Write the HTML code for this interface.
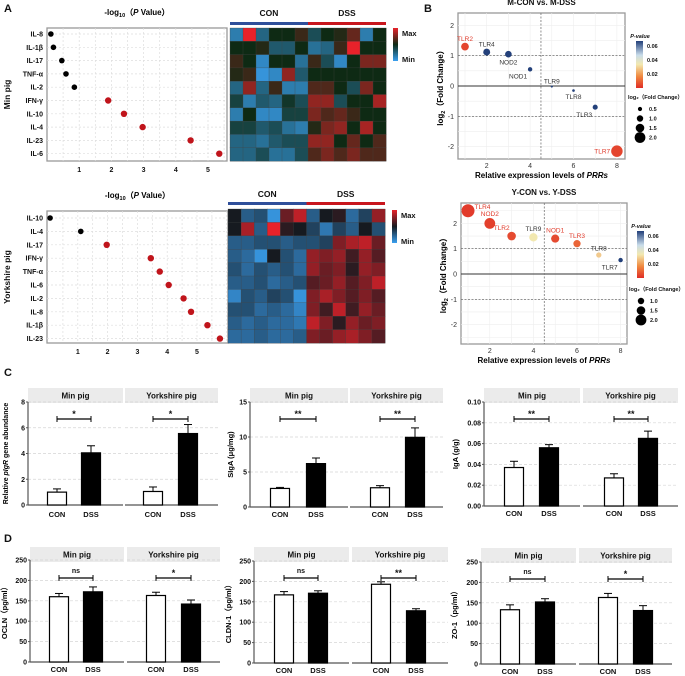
<!DOCTYPE html>
<html><head><meta charset="utf-8"><style>
html,body{margin:0;padding:0;background:#fff;}
svg{display:block;font-family:"Liberation Sans",Arial,sans-serif;}
</style></head><body>
<svg id="fig" width="685" height="676" viewBox="0 0 685 676"></svg>
<script>
// ---------- Panel A data ----------
const aTopGenes=["IL-8","IL-1β","IL-17","TNF-α","IL-2","IFN-γ","IL-10","IL-4","IL-23","IL-6"];
const aTopVals=[0.12,0.2,0.46,0.59,0.85,1.9,2.39,2.97,4.46,5.35];
const aBotGenes=["IL-10","IL-4","IL-17","IFN-γ","TNF-α","IL-6","IL-2","IL-8","IL-1β","IL-23"];
const aBotVals=[0.07,1.1,1.97,3.45,3.75,4.05,4.55,4.8,5.35,5.77];
const aTicks=[1,2,3,4,5];
const heatTop=[
[-0.7,1,-0.5,0,0,0.2,-0.3,0,0.1,0.4,-0.7,0],
[0,0,0.1,-0.4,-0.4,0,-0.6,-0.5,0.2,1,0,0],
[0.2,0,-0.8,0,0,-0.6,0.2,-0.3,-0.8,0,0.5,0.5],
[0.1,0.2,-0.9,-0.8,0.6,-0.4,0,0,0,0,0,0],
[-0.5,0.6,-0.5,0.2,-0.7,-0.7,0.3,0.3,0,-0.3,0.5,0],
[-0.2,-0.7,-0.4,-0.5,-0.1,-0.3,0.6,0.6,-0.3,0,0,0.7],
[-0.7,0,-0.8,-0.8,-0.2,-0.2,0.5,0.3,0.4,0.2,0,0],
[-0.2,-0.2,-0.4,-0.3,-0.6,-0.7,0.1,0.5,0.6,0,0.7,0],
[-0.5,-0.5,-0.6,-0.4,-0.3,-0.3,0.6,0.6,0,0.4,0,0.3],
[-0.5,-0.5,-0.3,-0.6,-0.6,-0.3,0.3,0.5,0.3,0.5,0.3,0.3]];
const heatBot=[
[0,-0.5,-0.4,-0.9,0.4,0.8,-0.5,0,0.1,-0.6,-0.3,0.6],
[0,0.7,-0.5,1,0.1,0,-0.3,-0.7,-0.3,-0.5,0,-0.4],
[-0.5,-0.5,-0.4,-0.4,-0.5,-0.4,-0.4,-0.3,0.5,0.7,0.8,0.4],
[-0.5,-0.6,-0.9,0,-0.4,-0.6,0.6,0.5,0.6,0.2,0.6,0.3],
[-0.4,-0.6,-0.4,-0.5,-0.4,-0.6,0.6,0.4,0.5,0.1,0.6,0.5],
[-0.5,-0.5,-0.4,-0.6,-0.5,-0.4,0.3,0.4,0.6,0.3,0.5,0.8],
[-0.8,-0.4,-0.5,-0.3,-0.4,-0.9,0.5,0.7,0.5,0.3,0.5,0.3],
[-0.4,-0.4,-0.6,-0.5,-0.6,-0.8,0.5,0.2,0.8,0.2,0.6,0.4],
[-0.5,-0.6,-0.5,-0.6,-0.6,-0.7,0.8,0.5,0.1,0.6,0.4,0.5],
[-0.6,-0.6,-0.5,-0.6,-0.6,-0.5,0.5,0.4,0.6,0.7,0.5,0.3]];
// ---------- Panel B data ----------
const bTopGenes=["TLR2","TLR4","NOD2","NOD1","TLR9","TLR8","TLR3","TLR7"];
const bTopX=[1,2,3,4,5,6,7,8];
const bTopFC=[1.3,1.12,1.05,0.55,-0.02,-0.15,-0.7,-2.15];
const bTopP=[0.005,0.065,0.065,0.065,0.065,0.065,0.065,0.005];
const bTopLab=["a","a","b","bl","a","b","bl","l"];
const bBotGenes=["TLR4","NOD2","TLR2","TLR9","NOD1","TLR3","TLR8","TLR7"];
const bBotX=[1,2,3,4,5,6,7,8];
const bBotFC=[2.5,2.0,1.5,1.45,1.4,1.2,0.75,0.55];
const bBotP=[0.003,0.004,0.006,0.035,0.006,0.012,0.03,0.065];
const bBotLab=["r","a","al","a","a","a","a","bl"];
const bXTicks=[2,4,6,8];
const bYTicks=[-2,-1,0,1,2];
// ---------- Panels C/D data ----------
const groups=["Min pig","Yorkshire pig"];
const cats=["CON","DSS"];
const c1Means=[1.0,4.05,1.05,5.55], c1Err=[0.25,0.55,0.35,0.7];
const c2Means=[2.65,6.2,2.75,9.95], c2Err=[0.15,0.8,0.3,1.35];
const c3Means=[0.037,0.056,0.027,0.065], c3Err=[0.006,0.003,0.004,0.007];
const d1Means=[160,172,163,142], d1Err=[8,12,8,10];
const d2Means=[167,171,193,128], d2Err=[8,6,6,5];
const d3Means=[133,152,163,131], d3Err=[12,8,10,12];
const c1Ticks=[0,2,4,6,8], c2Ticks=[0,5,10,15], c3Ticks=[0,0.02,0.04,0.06,0.08,0.10];
const dTicks=[0,50,100,150,200,250];
const c1Sig=["*","*"], c2Sig=["**","**"], c3Sig=["**","**"];
const d1Sig=["ns","*"], d2Sig=["ns","**"], d3Sig=["ns","*"];

const NS="http://www.w3.org/2000/svg";
const svg=document.getElementById('fig');
function el(tag,attrs,parent,txt){const e=document.createElementNS(NS,tag);for(const k in attrs)e.setAttribute(k,attrs[k]);if(txt!==undefined)e.textContent=txt;(parent||svg).appendChild(e);return e;}
function grp(name){const g=el('g',{});return g;}
function txt(g,x,y,s,size,opt){opt=opt||{};const t=el('text',{x:x,y:y,'font-size':size,'font-weight':opt.w||'bold','text-anchor':opt.a||'middle',fill:opt.fill||'#111'},g,s);if(opt.rot)t.setAttribute('transform','rotate(-90 '+x+' '+y+')');if(opt.style)t.setAttribute('font-style',opt.style);return t;}
function mix(a,b,t){return 'rgb('+[0,1,2].map(i=>Math.round(a[i]+(b[i]-a[i])*t)).join(',')+')';}

// panel letters
[["A",4,12],["B",424,12],["C",4,376],["D",4,542]].forEach(p=>{const t=txt(svg,p[1],p[2],p[0],11,{a:'start'});});

// ---------- Dot plot ----------
function dotPlot(name,genes,vals,box,x0,unit,rowY,rowStep,title,ylab){
  const g=grp(name);
  const xs=v=>x0+v*unit, ys=i=>rowY+i*rowStep;
  el('rect',{x:box[0],y:box[1],width:box[2]-box[0],height:box[3]-box[1],fill:'#fff',stroke:'#999','stroke-width':1.3},g);
  for(let v=0.5;xs(v)<box[2];v+=0.5){el('line',{x1:xs(v),x2:xs(v),y1:box[1],y2:box[3],stroke:'#ddd','stroke-dasharray':'2,2','stroke-width':0.7},g);}
  genes.forEach((gn,i)=>{el('line',{x1:box[0],x2:box[2],y1:ys(i),y2:ys(i),stroke:'#ddd','stroke-dasharray':'2,2','stroke-width':0.7},g);
    txt(g,box[0]-4,ys(i)+2.5,gn,7,{a:'end'});});
  aTicks.forEach(t=>txt(g,xs(t),box[3]+11,String(t),7));
  vals.forEach((v,i)=>{const red=v>=1.3;const c=el('circle',{cx:xs(v),cy:ys(i),r:red?3.2:2.8,fill:red?'#c0141b':'#000'},g);
    });
  const t=el('text',{x:(box[0]+box[2])/2,y:title,'font-size':8,'font-weight':'bold','text-anchor':'middle'},g);
  t.innerHTML='-log<tspan font-size="5.5" dy="2">10</tspan><tspan dy="-2">（</tspan><tspan font-style="italic">P</tspan> Value）';
  txt(g,10,(box[1]+box[3])/2,ylab,8.5,{rot:1});
}
dotPlot('dotplot-min',aTopGenes,aTopVals,[47,28,227,161],47,32.2,34,13.3,15,'Min pig');
dotPlot('dotplot-yorkshire',aBotGenes,aBotVals,[47,211,228,343],48,29.8,218,13.4,198,'Yorkshire pig');

// ---------- Heatmaps ----------
function heat(name,data,x,y,w,h,mid,labY,barY,leg){
  const g=grp(name);
  const rows=data.length, cols=data[0].length, cw=w/cols, ch=h/rows;
  const blue=[58,160,240], red=[232,34,42];
  data.forEach((r,i)=>r.forEach((v,j)=>{const c=v<0?mix(mid,blue,-v):mix(mid,red,v);
    const rc=el('rect',{x:x+j*cw,y:y+i*ch,width:cw+0.3,height:ch+0.3,fill:c,stroke:'#444','stroke-width':0.3},g);
    }));
  el('rect',{x:x,y:barY,width:w/2,height:3,fill:'#2f4f9a'},g);
  el('rect',{x:x+w/2,y:barY,width:w/2,height:3,fill:'#c8161d'},g);
  txt(g,x+w/4,labY,'CON',8.5);txt(g,x+3*w/4,labY,'DSS',8.5);
  const d=el('defs',{},g);const lg=el('linearGradient',{id:name+'g',x1:0,y1:0,x2:0,y2:1},d);
  el('stop',{offset:'0','stop-color':'#e8222a'},lg);el('stop',{offset:'0.5','stop-color':mix(mid,mid,0)},lg);el('stop',{offset:'1','stop-color':'#3aa0f0'},lg);
  el('rect',{x:leg[0],y:leg[1],width:5,height:33,fill:'url(#'+name+'g)'},g);
  txt(g,leg[0]+9,leg[1]+8,'Max',7.5,{a:'start'});txt(g,leg[0]+9,leg[1]+34,'Min',7.5,{a:'start'});
}
heat('heatmap-min',heatTop,230,28,156,133,[14,42,20],16,22,[393,28]);
heat('heatmap-yorkshire',heatBot,228,209,157,134,[22,26,32],197,202,[392,210]);

// ---------- Panel B scatter ----------
function pcol(p){const st=[[0,[224,45,38]],[0.02,[240,140,70]],[0.035,[242,232,176]],[0.045,[200,220,235]],[0.065,[35,64,122]]];
  for(let i=1;i<st.length;i++){if(p<=st[i][0]){const t=(p-st[i-1][0])/(st[i][0]-st[i-1][0]);return mix(st[i-1][1],st[i][1],t);}}return mix(st[4][1],st[4][1],0);}
function scatter(name,genes,xv,fc,pv,lab,box,x1,ux,y0,uy,title,leg,sizes){
  const g=grp(name);
  const xs=v=>x1+(v-1)*ux, ys=v=>y0-v*uy;
  el('rect',{x:box[0],y:box[1],width:box[2]-box[0],height:box[3]-box[1],fill:'#fff',stroke:'#999','stroke-width':1.3},g);
  for(let v=1;v<=8.3;v+=1)el('line',{x1:xs(v),x2:xs(v),y1:box[1],y2:box[3],stroke:'#eee','stroke-width':0.6},g);
  for(let v=-2.5;v<=2.5;v+=0.5)if(ys(v)>box[1]&&ys(v)<box[3])el('line',{x1:box[0],x2:box[2],y1:ys(v),y2:ys(v),stroke:'#eee','stroke-width':0.6},g);
  [1,-1].forEach(v=>el('line',{x1:box[0],x2:box[2],y1:ys(v),y2:ys(v),stroke:'#555','stroke-dasharray':'2,1.5','stroke-width':0.7},g));
  el('line',{x1:box[0],x2:box[2],y1:ys(0),y2:ys(0),stroke:'#333','stroke-width':1},g);
  el('line',{x1:xs(4.5),x2:xs(4.5),y1:box[1],y2:box[3],stroke:'#777','stroke-dasharray':'2,1.5','stroke-width':0.8},g);
  bXTicks.forEach(t=>txt(g,xs(t),box[3]+9,String(t),7,{w:'normal',fill:'#333'}));
  bYTicks.forEach(t=>{if(ys(t)>box[1]&&ys(t)<box[3])txt(g,box[0]-4,ys(t)+2.5,String(t),7,{a:'end',w:'normal',fill:'#333'});});
  genes.forEach((gn,i)=>{const cx=xs(xv[i]),cy=ys(fc[i]);const r=1+2.2*Math.abs(fc[i]);
    const c=el('circle',{cx:cx,cy:cy,r:r,fill:pcol(pv[i])},g);
    const col=pv[i]<0.03?'#e03a2a':'#333';
    let lx=cx,ly=cy-r-2,an='middle';const L=lab[i];
    if(L==='b'){ly=cy+r+7;} if(L==='bl'){lx=cx-3;ly=cy+r+7;an='end';}
    if(L==='l'){lx=cx-r-1;ly=cy+2.5;an='end';} if(L==='r'){lx=cx+r;ly=cy-2;an='start';}
    if(L==='al'){lx=cx-2;an='end';}
    txt(g,lx,ly,gn,6.5,{w:'normal',a:an,fill:col});});
  txt(g,(box[0]+box[2])/2,title,name.indexOf('min')>=0?'M-CON vs. M-DSS':'Y-CON vs. Y-DSS',8);
  const xl=el('text',{x:(box[0]+box[2])/2,y:box[3]+19,'font-size':8,'font-weight':'bold','text-anchor':'middle'},g);
  xl.innerHTML='Relative expression levels of <tspan font-style="italic">PRRs</tspan>';
  const yl=el('text',{x:box[0]-15,y:(box[1]+box[3])/2,'font-size':8,'font-weight':'bold','text-anchor':'middle',transform:'rotate(-90 '+(box[0]-15)+' '+((box[1]+box[3])/2)+')'},g);
  yl.innerHTML='log<tspan font-size="5.5" dy="2">2</tspan><tspan dy="-2">（Fold Change）</tspan>';
  txt(g,leg[0]+4,leg[1]-3,'P-value',5.5,{style:'italic'});
  const d=el('defs',{},g);const lg=el('linearGradient',{id:name+'pg',x1:0,y1:0,x2:0,y2:1},d);
  [[0,'#23407a'],[0.3,'#c8dcea'],[0.5,'#f2e8b0'],[0.75,'#f08a40'],[1,'#e02d26']].forEach(s=>el('stop',{offset:s[0],'stop-color':s[1]},lg));
  el('rect',{x:leg[0],y:leg[1],width:7,height:47,fill:'url(#'+name+'pg)'},g);
  ['0.06','0.04','0.02'].forEach((s,i)=>txt(g,leg[0]+11,leg[1]+7+i*14,s,5.5,{a:'start'}));
  txt(g,leg[0]-8,leg[2],'log₂（Fold Change）',5.5,{a:'start'});
  sizes.forEach((s,i)=>{const yy=leg[2]+10+i*9.5;el('circle',{cx:leg[0]+4,cy:yy,r:1+2.2*s,fill:'#000'},g);txt(g,leg[0]+13,yy+2,s.toFixed(1),5.5,{a:'start'});});
}
scatter('scatter-min',bTopGenes,bTopX,bTopFC,bTopP,bTopLab,[458,13,625,159],465,21.7,86,30.3,5,[636,41,99],[0.5,1.0,1.5,2.0]);
scatter('scatter-yorkshire',bBotGenes,bBotX,bBotFC,bBotP,bBotLab,[461,203,627,344],468,21.8,274,25.3,195,[637,231,291],[1.0,1.5,2.0]);

// ---------- Bar charts ----------
function bars(name,means,errs,ticks,sig,ylab,yaxX,yTop,y0,facets,centers,stripY,labY,ylx,fmt,yfs){
  const g=grp(name);
  const max=ticks[ticks.length-1];const ys=v=>y0-(v/max)*(y0-yTop);
  facets.forEach((f,k)=>{const s=el('rect',{x:f[0],y:stripY,width:f[1]-f[0],height:15,fill:'#ebebeb'},g);
    
    txt(g,(f[0]+f[1])/2,stripY+10.5,groups[k],8);
    ticks.forEach(t=>{if(t>0)el('line',{x1:f[0],x2:f[1],y1:ys(t),y2:ys(t),stroke:'#d5d5d5','stroke-dasharray':'3,2','stroke-width':0.7},g);});
    el('line',{x1:f[0],x2:f[1],y1:y0,y2:y0,stroke:'#555','stroke-width':1.2},g);});
  el('line',{x1:yaxX,x2:yaxX,y1:yTop,y2:y0,stroke:'#555','stroke-width':1.2},g);
  ticks.forEach(t=>{el('line',{x1:yaxX-2,x2:yaxX,y1:ys(t),y2:ys(t),stroke:'#555'},g);txt(g,yaxX-3,ys(t)+2.5,fmt(t),7,{a:'end'});});
  means.forEach((m,i)=>{const cx=centers[i],w=19,top=ys(m),et=ys(m+errs[i]);
    el('line',{x1:cx,x2:cx,y1:top,y2:et,stroke:'#000','stroke-width':1},g);
    el('line',{x1:cx-4,x2:cx+4,y1:et,y2:et,stroke:'#000','stroke-width':1},g);
    const b=el('rect',{x:cx-w/2,y:top,width:w,height:y0-top,fill:i%2?'#000':'#fff',stroke:'#000','stroke-width':1.2},g);
    
    txt(g,cx,labY,cats[i%2],7.5);});
  sig.forEach((s,k)=>{const a=centers[2*k],b=centers[2*k+1];const by=stripY+31;
    el('line',{x1:a,x2:b,y1:by,y2:by,stroke:'#000','stroke-width':1.2},g);
    el('line',{x1:a,x2:a,y1:by-3,y2:by+3,stroke:'#000','stroke-width':1},g);el('line',{x1:b,x2:b,y1:by-3,y2:by+3,stroke:'#000','stroke-width':1},g);
    txt(g,(a+b)/2,s==='ns'?by-5:by-2,s,s==='ns'?7:9);});
  const cy=(yTop+y0)/2;
  const t=el('text',{x:ylx,y:cy,'font-size':yfs||7.5,'font-weight':'bold','text-anchor':'middle',transform:'rotate(-90 '+ylx+' '+cy+')'},g);
  t.innerHTML=ylab;
}
const fi=t=>String(t), f2=t=>t.toFixed(2);
bars('chart-pigr',c1Means,c1Err,c1Ticks,c1Sig,'Relative <tspan font-style="italic">pIgR</tspan> gene abundance',28,402,505,[[28,123],[125,218]],[57,91,153,188],388,517,8,fi,7);
bars('chart-siga',c2Means,c2Err,c2Ticks,c2Sig,'SIgA (μg/mg)',250,402,507,[[250,348],[350,443]],[280,316,380,415],388,517,233,fi);
bars('chart-iga',c3Means,c3Err,c3Ticks,c3Sig,'IgA (g/g)',484,402,506,[[484,580],[583,678]],[514,549,614,648],388,516,458,f2);
bars('chart-ocln',d1Means,d1Err,dTicks,d1Sig,'OCLN（pg/ml）',30,560,662,[[30,124],[127,220]],[59,93,156,191],547,672,7,fi);
bars('chart-cldn1',d2Means,d2Err,dTicks,d2Sig,'CLDN-1（pg/ml）',254,561,663,[[254,349],[352,448]],[284,318,381,416],547,673,231,fi);
bars('chart-zo1',d3Means,d3Err,dTicks,d3Sig,'ZO-1（pg/ml）',481,562,664,[[481,576],[579,672]],[510,545,608,643],548,674,457,fi);
</script>
</body></html>
